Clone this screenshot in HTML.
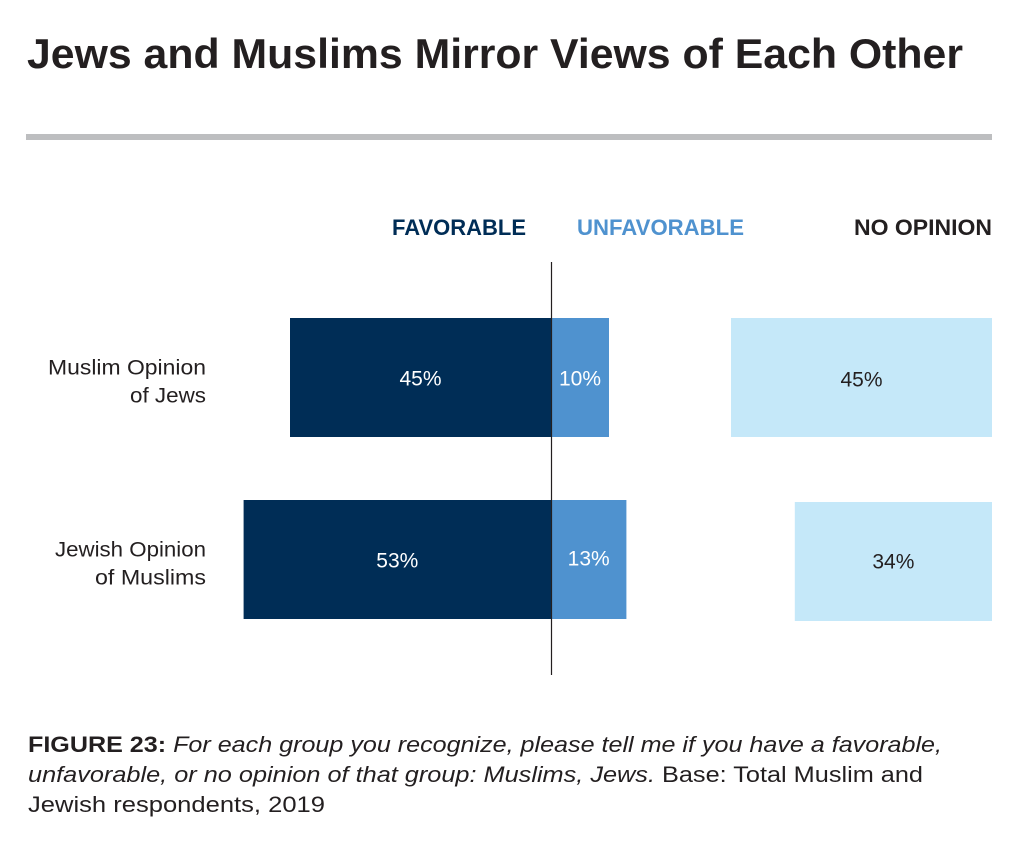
<!DOCTYPE html>
<html><head><meta charset="utf-8"><style>
body{margin:0;background:#fff;}
svg{display:block;font-family:"Liberation Sans",sans-serif;}
</style></head><body>
<svg width="1016" height="847" viewBox="0 0 1016 847">
<text x="27" y="68" font-size="42" font-weight="bold" fill="#231f20" textLength="936" lengthAdjust="spacingAndGlyphs">Jews and Muslims Mirror Views of Each Other</text>
<rect x="26" y="134" width="966" height="6" fill="#bdbec0"/>
<text x="526" y="235" font-size="22" font-weight="bold" fill="#002d56" text-anchor="end" textLength="134" lengthAdjust="spacingAndGlyphs">FAVORABLE</text>
<text x="577" y="235" font-size="22" font-weight="bold" fill="#4f92cf" textLength="167" lengthAdjust="spacingAndGlyphs">UNFAVORABLE</text>
<text x="992" y="235" font-size="22" font-weight="bold" fill="#231f20" text-anchor="end" textLength="138" lengthAdjust="spacingAndGlyphs">NO OPINION</text>
<g id="bars"></g>
<line x1="551.5" y1="262" x2="551.5" y2="675" stroke="#231f20" stroke-width="1.2"/>
<g font-size="22" fill="#231f20">
<text x="28" y="752" textLength="914" lengthAdjust="spacingAndGlyphs"><tspan font-weight="bold">FIGURE 23:</tspan> <tspan font-style="italic">For each group you recognize, please tell me if you have a favorable,</tspan></text>
<text x="28" y="782" textLength="895" lengthAdjust="spacingAndGlyphs"><tspan font-style="italic">unfavorable, or no opinion of that group: Muslims, Jews.</tspan> Base: Total Muslim and</text>
<text x="28" y="812" textLength="297" lengthAdjust="spacingAndGlyphs">Jewish respondents, 2019</text>
</g>
</svg>
<script>
const categories = [["Muslim Opinion","of Jews"],["Jewish Opinion","of Muslims"]];
const favorable = [45, 53];
const unfavorable = [10, 13];
const noOpinion = [45, 34];
const NS="http://www.w3.org/2000/svg";
const g=document.getElementById('bars');
const cx=551, pxPer=5.8, right=992;
const rowTop=[318,500], bh=119;
function x(v){return v*pxPer;}
function mk(tag,attrs){const e=document.createElementNS(NS,tag);for(const k in attrs)e.setAttribute(k,attrs[k]);g.appendChild(e);return e;}
function txt(s,xx,yy,fill,anchor,size){const t=mk('text',{x:xx,y:yy,fill:fill,'text-anchor':anchor,'font-size':size});t.textContent=s;return t;}
categories.forEach((c,i)=>{
  const y=rowTop[i], mid=y+bh/2;
  const f=mk('rect',{x:cx-x(favorable[i]),y:y,width:x(favorable[i]),height:bh,fill:'#002d56'});
  
  
  const u=mk('rect',{x:cx,y:y,width:x(unfavorable[i]),height:bh,fill:'#4f92cf'});
  
  
  const n=mk('rect',{x:right-x(noOpinion[i]),y:y+(i?2:0),width:x(noOpinion[i]),height:bh,fill:'#c5e8f9'});
  
  
  let t=txt(favorable[i]+'%',cx-x(favorable[i])/2,mid+8,'#fff','middle',21);
  
  
  t=txt(unfavorable[i]+'%',cx+x(unfavorable[i])/2,mid+8-(i?2:0),'#fff','middle',21);
  
  
  t=txt(noOpinion[i]+'%',right-x(noOpinion[i])/2,mid+9,'#231f20','middle',21);
  
  
  t=txt(c[0],206,mid-3,'#231f20','end',21);
  t.setAttribute('textLength',i?151:158);
  t.setAttribute('lengthAdjust','spacingAndGlyphs');
  
  
  t=txt(c[1],206,mid+25,'#231f20','end',21);
  t.setAttribute('textLength',i?111:76);
  t.setAttribute('lengthAdjust','spacingAndGlyphs');
  
  
});
</script>
</body></html>
